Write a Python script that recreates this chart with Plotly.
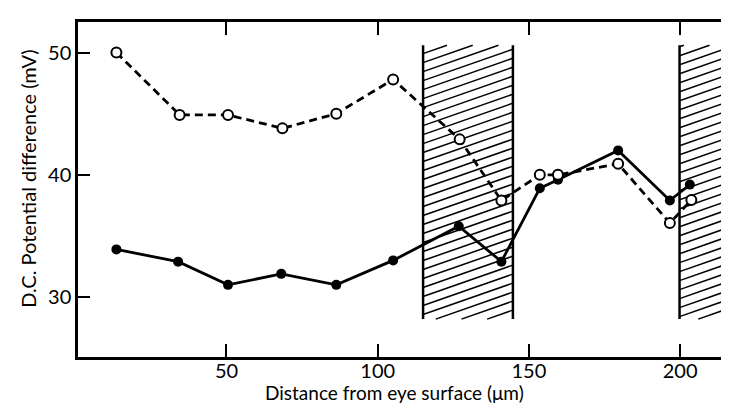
import plotly.graph_objects as go

# ---- data ----
x_filled = [13.6, 34.0, 50.5, 68.1, 86.3, 105.1, 126.8, 140.9, 153.6, 159.6, 179.5, 196.6, 203.2]
y_filled = [33.9, 32.9, 31.0, 31.9, 31.0, 33.0, 35.8, 32.9, 38.9, 39.6, 42.0, 37.9, 39.2]

x_open = [13.6, 34.5, 50.5, 68.5, 86.3, 105.1, 127.1, 140.9, 153.6, 159.6, 179.5, 196.6, 203.7]
y_open = [50.0, 44.9, 44.9, 43.8, 45.0, 47.8, 42.9, 37.9, 40.0, 40.0, 40.9, 36.05, 37.95]

# hatched (shaded) regions: start, end in µm, bottom/top in mV
region_x0 = [115.0, 199.8]
region_x1 = [144.7, 240.0]
region_ybot = [28.2, 28.2]
region_ytop = [50.6, 50.6]

x_ticks = [50, 100, 150, 200]
y_ticks = [30, 40, 50]

X_RANGE = [0.9, 218.8]
Y_RANGE = [25.1, 52.5]

FONT = "Lato"

fig = go.Figure()

fig.add_trace(go.Scatter(
    x=x_filled, y=y_filled, mode="lines+markers",
    line=dict(color="black", width=2.8),
    marker=dict(symbol="circle", size=10, color="black"),
    showlegend=False, xaxis="x", yaxis="y"))

fig.add_trace(go.Scatter(
    x=x_open, y=y_open, mode="lines+markers",
    line=dict(color="black", width=2.8, dash="8px,5px"),
    marker=dict(symbol="circle", size=10, color="white",
                line=dict(color="black", width=2)),
    showlegend=False, xaxis="x", yaxis="y"))

# invisible trace to activate right-side ticks axis
fig.add_trace(go.Scatter(x=[X_RANGE[0]], y=[Y_RANGE[0]], mode="markers",
                         marker=dict(opacity=0), showlegend=False,
                         hoverinfo="skip", xaxis="x", yaxis="y2"))

# hatching
px_per_um = 3.024
px_per_mv = 12.23
k = 0.35 * px_per_um / px_per_mv
step = 9.0 / px_per_mv
shapes = []
for x0, x1, yb, yt in zip(region_x0, region_x1, region_ybot, region_ytop):
    w = x1 - x0
    b = yb - k * w
    while b < yt:
        xs = max(x0, x0 + (yb - b) / k)
        xe = min(x1, x0 + (yt - b) / k)
        if xe > xs:
            shapes.append(dict(type="line", xref="x", yref="y", layer="below",
                               x0=xs, x1=xe,
                               y0=b + k * (xs - x0), y1=b + k * (xe - x0),
                               line=dict(color="black", width=1.5)))
        b += step
    for xv in (x0, x1):
        shapes.append(dict(type="line", xref="x", yref="y", layer="below",
                           x0=xv, x1=xv, y0=yb, y1=yt,
                           line=dict(color="black", width=2.5)))

fig.update_layout(
    width=729, height=403,
    margin=dict(l=70, r=0, t=14, b=54),
    paper_bgcolor="white", plot_bgcolor="white",
    font=dict(family=FONT, color="black", size=20),
    shapes=shapes,
    xaxis=dict(range=X_RANGE, tickvals=x_ticks, ticks="inside", ticklen=13,
               tickwidth=2, tickcolor="black", showline=True, linecolor="black",
               linewidth=2.5, mirror="ticks", showgrid=False, zeroline=False,
               ticklabelstandoff=-6,
               tickfont=dict(family=FONT, size=20)),
    yaxis=dict(range=Y_RANGE, tickvals=y_ticks, ticks="inside", ticklen=12,
               tickwidth=2, tickcolor="black", showline=True, linecolor="black",
               linewidth=2.5, showgrid=False, zeroline=False,
               tickfont=dict(family=FONT, size=20)),
    yaxis2=dict(range=Y_RANGE, tickvals=y_ticks, ticks="inside", ticklen=12,
                tickwidth=2, tickcolor="black", showline=False,
                showticklabels=False, overlaying="y", side="right",
                showgrid=False, zeroline=False),
    annotations=[
        dict(text="Distance from eye surface (\u03bcm)", xref="x", yref="paper",
             x=105.7, y=-0.106, xanchor="center", yanchor="middle",
             showarrow=False, font=dict(family=FONT, size=19)),
        dict(text="D.C. Potential difference (mV)", xref="paper", yref="paper",
             x=-0.075, y=0.531, xanchor="center", yanchor="middle",
             textangle=-90, showarrow=False, font=dict(family=FONT, size=20)),
    ],
)

fig.write_html("out.html")
